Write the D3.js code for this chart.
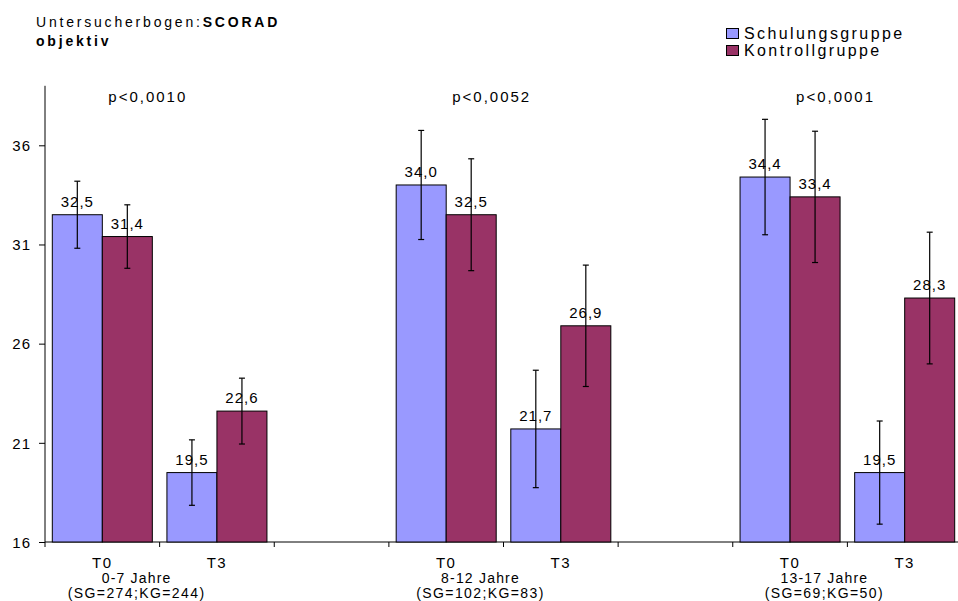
<!DOCTYPE html>
<html>
<head>
<meta charset="utf-8">
<script src="https://cdn.jsdelivr.net/npm/d3@7"></script>
<style>
  html, body { margin: 0; padding: 0; background: #fff; }
  svg { display: block; font-family: "Liberation Sans", Arial, sans-serif; }
</style>
</head>
<body>
<svg id="chart" width="958" height="601"></svg>
<script>
// ---- data ----
const groups = ["0-7 Jahre", "8-12 Jahre", "13-17 Jahre"];
const groupN = ["(SG=274;KG=244)", "(SG=102;KG=83)", "(SG=69;KG=50)"];
const pValues = ["p<0,0010", "p<0,0052", "p<0,0001"];
const timepoints = ["T0", "T3"];
const seriesNames = ["Schulungsgruppe", "Kontrollgruppe"];
const sgValues = [32.5, 19.5, 34.0, 21.7, 34.4, 19.5];
const kgValues = [31.4, 22.6, 32.5, 26.9, 33.4, 28.3];
const sgErr = [1.69, 1.65, 2.75, 2.96, 2.91, 2.60];
const kgErr = [1.60, 1.66, 2.82, 3.06, 3.31, 3.32];
const yTicks = [16, 21, 26, 31, 36];
const yDomain = [16, 39];

// ---- build ----
const colors = ["#9999FF", "#993366"];
const svg = d3.select("#chart");

// categories: T0, T3, gap per group
const cats = [];
groups.forEach((g, gi) => {
  timepoints.forEach((t, ti) => cats.push({key: gi + "-" + t, label: t, gi, ti, idx: gi * 2 + ti}));
  if (gi < groups.length - 1) cats.push({key: gi + "-gap", label: "", gi, ti: -1, idx: -1});
});

const x = d3.scaleBand().domain(cats.map(c => c.key)).range([45, 962]).paddingInner(0).paddingOuter(0);
const xs = d3.scaleBand().domain([0, 1]).range([0, x.bandwidth()]).paddingInner(0).paddingOuter(0.146);
const y = d3.scaleLinear().domain(yDomain).range([542, 85.8]);

const fmt = v => d3.format(".1f")(v).replace(".", ",");

// y axis
const yAxis = d3.axisLeft(y).tickValues(yTicks).tickSize(6).tickPadding(8).tickFormat(d3.format("d"));
const gy = svg.append("g").attr("transform", "translate(45,0)").call(yAxis);
gy.select(".domain").attr("stroke", "#000").attr("d", `M0,${y(yDomain[1])}V${y(yDomain[0])}`);
gy.selectAll(".tick line").attr("stroke", "#000");
gy.selectAll(".tick text").attr("font-size", 15).attr("letter-spacing", "1px")
  .attr("font-family", "Liberation Sans, Arial, sans-serif").attr("fill", "#000").attr("dy", "0.35em");

// x axis line
svg.append("line").attr("x1", 45).attr("x2", 958).attr("y1", y(16)).attr("y2", y(16)).attr("stroke", "#000");
// x tick marks at band boundaries
const bounds = cats.map(c => x(c.key)).concat([x(cats[cats.length - 1].key) + x.bandwidth()]);
svg.selectAll(".xtick").data(bounds).join("line")
  .attr("x1", d => d).attr("x2", d => d).attr("y1", y(16)).attr("y2", y(16) + 5).attr("stroke", "#000");

// bars
const barData = [];
cats.filter(c => c.idx >= 0).forEach(c => {
  barData.push({c, s: 0, v: sgValues[c.idx], e: sgErr[c.idx]});
  barData.push({c, s: 1, v: kgValues[c.idx], e: kgErr[c.idx]});
});

svg.selectAll(".bar").data(barData).join("rect")
  .attr("x", d => x(d.c.key) + xs(d.s))
  .attr("y", d => y(d.v))
  .attr("width", xs.bandwidth())
  .attr("height", d => y(yDomain[0]) - y(d.v))
  .attr("fill", d => colors[d.s])
  .attr("stroke", "#000").attr("stroke-width", 1);

// value labels
svg.selectAll(".val").data(barData).join("text")
  .attr("x", d => x(d.c.key) + xs(d.s) + xs.bandwidth() / 2)
  .attr("y", d => y(d.v) - 8)
  .attr("text-anchor", "middle").attr("font-size", 15).attr("letter-spacing", "1px")
  .attr("fill", "#000")
  .text(d => fmt(d.v));

// error bars
const eg = svg.selectAll(".err").data(barData).join("g");
eg.append("line")
  .attr("x1", d => x(d.c.key) + xs(d.s) + xs.bandwidth() / 2)
  .attr("x2", d => x(d.c.key) + xs(d.s) + xs.bandwidth() / 2)
  .attr("y1", d => y(d.v + d.e)).attr("y2", d => y(d.v - d.e))
  .attr("stroke", "#000").attr("stroke-width", 1.2);
[1, -1].forEach(sign => {
  eg.append("line")
    .attr("x1", d => x(d.c.key) + xs(d.s) + xs.bandwidth() / 2 - 3)
    .attr("x2", d => x(d.c.key) + xs(d.s) + xs.bandwidth() / 2 + 3)
    .attr("y1", d => y(d.v + sign * d.e)).attr("y2", d => y(d.v + sign * d.e))
    .attr("stroke", "#000").attr("stroke-width", 1.2);
});

// x tick labels T0/T3
svg.selectAll(".xl").data(cats.filter(c => c.idx >= 0)).join("text")
  .attr("x", d => x(d.key) + x.bandwidth() / 2)
  .attr("y", 568)
  .attr("text-anchor", "middle").attr("font-size", 15).attr("letter-spacing", "1.5px")
  .attr("fill", "#000")
  .text(d => d.label);

// group labels
groups.forEach((g, gi) => {
  const x0 = x(gi + "-T0"), x1 = x(gi + "-T3") + x.bandwidth();
  const cx = (x0 + x1) / 2 - 23;
  svg.append("text").attr("x", cx).attr("y", 583).attr("text-anchor", "middle")
    .attr("font-size", 14).attr("letter-spacing", "1.2px").text(g);
  svg.append("text").attr("x", cx).attr("y", 598).attr("text-anchor", "middle")
    .attr("font-size", 14).attr("letter-spacing", "1.4px").text(groupN[gi]);
  svg.append("text").attr("x", x0 + x.bandwidth() / 2 + 6).attr("y", 102)
    .attr("text-anchor", "start").attr("font-size", 15).attr("letter-spacing", "2px").text(pValues[gi]);
});

// title
const t = svg.append("text").attr("x", 36).attr("y", 27).attr("font-size", 14).attr("letter-spacing", "2.8px");
t.append("tspan").text("Untersucherbogen:");
t.append("tspan").attr("font-weight", "bold").text("SCORAD");
svg.append("text").attr("x", 36).attr("y", 46).attr("font-size", 14).attr("letter-spacing", "2.8px")
  .attr("font-weight", "bold").text("objektiv");

// legend
const lg = svg.append("g").attr("transform", "translate(726,0)");
seriesNames.forEach((s, i) => {
  lg.append("rect").attr("x", 0.5).attr("y", 28.5 + i * 17).attr("width", 12).attr("height", 10)
    .attr("fill", colors[i]).attr("stroke", "#000");
  lg.append("text").attr("x", 18).attr("y", 38.5 + i * 17).attr("font-size", 16)
    .attr("letter-spacing", "2.4px").text(s);
});
</script>
</body>
</html>
